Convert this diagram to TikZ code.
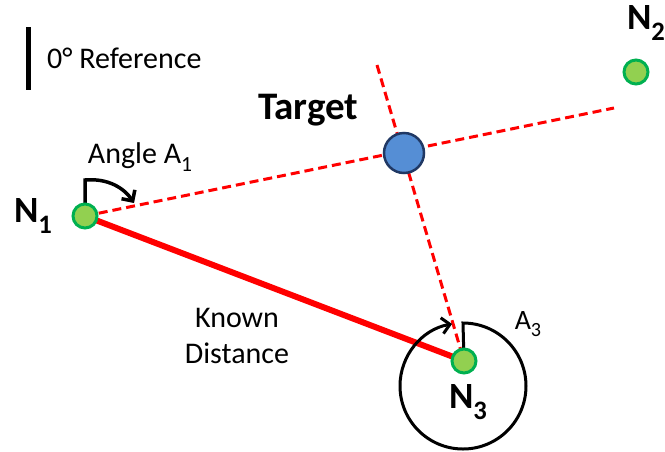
\documentclass[tikz,border=0pt]{standalone}
\usepackage{fontspec}
\setmainfont{Carlito}
\usetikzlibrary{arrows.meta,backgrounds}
\definecolor{nodefill}{HTML}{92D050}
\definecolor{nodeedge}{HTML}{00B050}
\definecolor{tfill}{HTML}{558ED5}
\definecolor{tedge}{HTML}{203864}
\newcommand{\lowsub}[1]{\raisebox{-0.28em}{\fontsize{0.72em}{1em}\selectfont #1}}
\tikzset{
 sensor/.style={circle, fill=nodefill, draw=nodeedge, line width=3pt, minimum size=24pt, inner sep=0pt},
 targetnode/.style={circle, fill=tfill, draw=tedge, line width=2.5pt, minimum size=40pt, inner sep=0pt},
 lbl/.style={font=\fontsize{30}{36}\selectfont, inner sep=0pt},
 blbl/.style={font=\fontsize{37}{40}\selectfont\bfseries, inner sep=0pt},
 ray/.style={red, line width=3pt, dash pattern=on 9pt off 5pt},
 known/.style={red, line width=6pt},
 anglearrow/.style={line width=3.5pt, -{Straight Barb[length=8pt,width=16pt]}},
}
\begin{document}
\begin{tikzpicture}[x=1pt,y=-1pt]
\useasboundingbox (0,0) rectangle (665,451);
% legend
\coordinate (barT) at (28,27);
\coordinate (barB) at (28,90);
\draw[line width=5pt] (barT) -- (barB);
\node[lbl, anchor=west] (ref) at (47,58) {0° Reference};
% nodes
\node[sensor] (N1) at (85,216) {};
\node[sensor] (N2) at (636,72) {};
\node[sensor] (N3) at (464,361) {};
\node[targetnode] (T) at (404,153) {};
\coordinate (rayEnd) at (614,108);
\coordinate (rayTop) at (377,65);
\coordinate (a1top) at (85,180);
\coordinate (a1end) at (134,203);
\coordinate (a3top) at (463,323);
\begin{scope}[on background layer]
\draw[ray] (N1.center) -- (rayEnd);
\draw[ray] (rayTop) -- (N3.center);
\draw[known] (N1.center) -- (N3.center);
\draw[anglearrow] (N1.center) -- (a1top) .. controls (108,178) and (124,188) .. (a1end);
\draw[line width=3pt, -{Straight Barb[length=8pt,width=16pt]}] (N3.center) -- (a3top) arc[start angle=-90, end angle=260, radius=63];
\end{scope}
% labels
\node[lbl] (angleLbl) at (140,157) {Angle A\lowsub{1}};
\node[blbl] (N1lbl) at (33,216) {N\lowsub{1}};
\node[blbl] (N2lbl) at (646,23) {N\lowsub{2}};
\node[blbl] (N3lbl) at (468,402) {N\lowsub{3}};
\node[blbl, font=\fontsize{39}{42}\selectfont\bfseries] (Tlbl) at (308,110) {Target};
\node[lbl, font=\fontsize{28}{32}\selectfont] (A3lbl) at (528,324) {A\lowsub{3}};
\node[lbl, align=center] (kd) at (237,336) {Known\\Distance};
\end{tikzpicture}
\end{document}
